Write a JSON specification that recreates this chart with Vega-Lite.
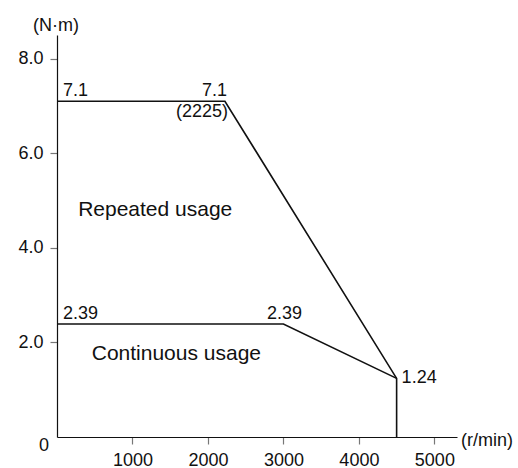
{
  "$schema": "https://vega.github.io/schema/vega-lite/v6.json",
  "width": 400,
  "height": 402,
  "autosize": {"type": "none"},
  "padding": {"left": 57, "top": 35, "right": 61, "bottom": 31},
  "background": "white",
  "config": {
    "view": {"stroke": null},
    "font": "Liberation Sans",
    "axis": {"labelFont": "Liberation Sans", "labelFontSize": 18, "labelColor": "#111", "grid": false, "domainColor": "#111", "domainWidth": 1.2, "tickColor": "#777", "tickWidth": 1.2, "tickSize": 7, "title": null}
  },
  "encoding": {
    "x": {"field": "x", "type": "quantitative", "scale": {"domain": [0, 5300], "nice": false, "zero": true},
      "axis": {"values": [1000, 2000, 3000, 4000, 5000], "labelPadding": 7, "format": "d", "labelFlush": false}},
    "y": {"field": "y", "type": "quantitative", "scale": {"domain": [0, 8.5], "nice": false, "zero": true},
      "axis": {"values": [2, 4, 6, 8], "format": ".1f", "labelPadding": 7, "labelBaseline": "middle"}}
  },
  "layer": [
    {
      "data": {"values": [
        {"series": "Repeated usage", "o": 1, "x": 0, "y": 7.1},
        {"series": "Repeated usage", "o": 2, "x": 2225, "y": 7.1},
        {"series": "Repeated usage", "o": 3, "x": 4500, "y": 1.24},
        {"series": "Repeated usage", "o": 4, "x": 4500, "y": 0},
        {"series": "Continuous usage", "o": 1, "x": 0, "y": 2.39},
        {"series": "Continuous usage", "o": 2, "x": 3000, "y": 2.39},
        {"series": "Continuous usage", "o": 3, "x": 4500, "y": 1.24}
      ]},
      "mark": {"type": "line", "color": "#111", "strokeWidth": 1.6},
      "encoding": {"detail": {"field": "series"}, "order": {"field": "o", "type": "quantitative"}}
    },
    {
      "data": {"values": [{"label": "7.1", "x": 0, "y": 7.1}, {"label": "2.39", "x": 0, "y": 2.39}]},
      "mark": {"type": "text", "align": "left", "baseline": "alphabetic", "dx": 6, "dy": -5, "fontSize": 18, "color": "#111"},
      "encoding": {"text": {"field": "label"}}
    },
    {
      "data": {"values": [{"label": "7.1", "x": 2225, "y": 7.1}]},
      "mark": {"type": "text", "align": "right", "baseline": "alphabetic", "dx": 2, "dy": -5, "fontSize": 18, "color": "#111"},
      "encoding": {"text": {"field": "label"}}
    },
    {
      "data": {"values": [{"label": "(2225)", "x": 2225, "y": 7.1}]},
      "mark": {"type": "text", "align": "right", "baseline": "alphabetic", "dx": 3, "dy": 16, "fontSize": 18, "color": "#111"},
      "encoding": {"text": {"field": "label"}}
    },
    {
      "data": {"values": [{"label": "2.39", "x": 3000, "y": 2.39}]},
      "mark": {"type": "text", "align": "center", "baseline": "alphabetic", "dx": 1, "dy": -5, "fontSize": 18, "color": "#111"},
      "encoding": {"text": {"field": "label"}}
    },
    {
      "data": {"values": [{"label": "1.24", "x": 4500, "y": 1.24}]},
      "mark": {"type": "text", "align": "left", "baseline": "middle", "dx": 5, "dy": 0, "fontSize": 18, "color": "#111"},
      "encoding": {"text": {"field": "label"}}
    },
    {
      "data": {"values": [{"label": "Repeated usage", "x": 280, "y": 4.68}, {"label": "Continuous usage", "x": 460, "y": 1.63}]},
      "mark": {"type": "text", "align": "left", "baseline": "alphabetic", "fontSize": 21, "color": "#111"},
      "encoding": {"text": {"field": "label"}}
    },
    {
      "data": {"values": [{"label": "(N·m)", "x": 0, "y": 8.5}]},
      "mark": {"type": "text", "align": "center", "baseline": "alphabetic", "dx": -1, "dy": -4, "fontSize": 18, "color": "#111"},
      "encoding": {"text": {"field": "label"}}
    },
    {
      "data": {"values": [{"label": "(r/min)", "x": 5300, "y": 0}]},
      "mark": {"type": "text", "align": "left", "baseline": "middle", "dx": 4, "dy": 4, "fontSize": 18, "color": "#111"},
      "encoding": {"text": {"field": "label"}}
    },
    {
      "data": {"values": [{"label": "0", "x": 0, "y": 0}]},
      "mark": {"type": "text", "align": "center", "baseline": "middle", "dx": -13, "dy": 9, "fontSize": 18, "color": "#111"},
      "encoding": {"text": {"field": "label"}}
    }
  ]
}
